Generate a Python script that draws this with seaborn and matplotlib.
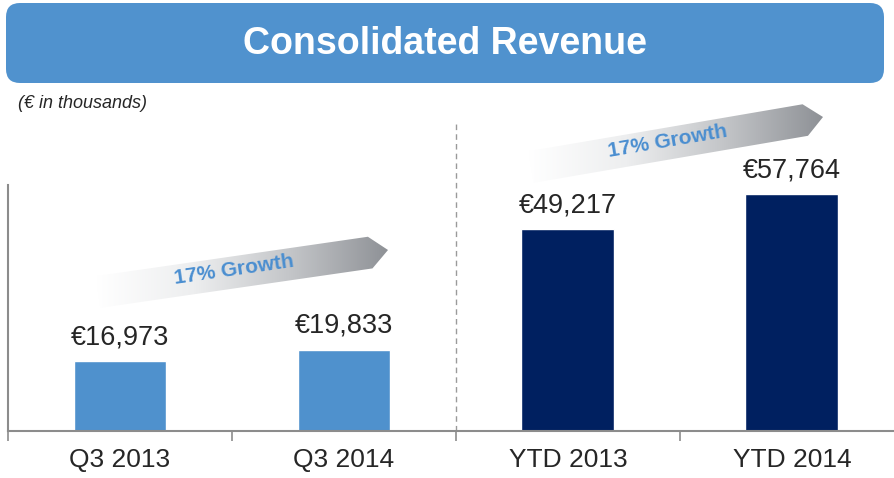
import numpy as np
import pandas as pd
import matplotlib
matplotlib.use('Agg')
import matplotlib.pyplot as plt
from matplotlib.patches import FancyBboxPatch, Polygon
from matplotlib.colors import LinearSegmentedColormap
import seaborn as sns

# chart data
categories  = ['Q3 2013', 'Q3 2014', 'YTD 2013', 'YTD 2014']
revenue     = [16973, 19833, 49217, 57764]
bar_colours = ['#4F91CD', '#4F91CD', '#002060', '#002060']

HEADER_BLUE = '#5092CE'
GROWTH_BLUE = '#4A8ED0'
AXIS_GREY   = '#8C8C8C'

sns.set_style('white')
plt.rcParams['font.family'] = ['Liberation Sans', 'DejaVu Sans']

fig = plt.figure(figsize=(8.95, 4.78), dpi=100)
W, H = 895, 478

# main bar axes
ax = fig.add_axes([8 / W, 47 / H, 887 / W, 246 / H])
ax.patch.set_alpha(0)

df = pd.DataFrame({'period': categories, 'revenue': revenue})
sns.barplot(data=df, x='period', y='revenue', hue='period',
            palette=bar_colours, saturation=1, width=0.415,
            legend=False, ax=ax)

ax.set_xlim(-0.5, 3.46)
ax.set_ylim(0, 60000)
ax.set_yticks([])
ax.set_xlabel('')
ax.set_ylabel('')

for side in ['top', 'right']:
    ax.spines[side].set_visible(False)
for side in ['left', 'bottom']:
    ax.spines[side].set_color(AXIS_GREY)
    ax.spines[side].set_linewidth(1.5)

# tick marks sit between categories, labels under the bars
ax.set_xticks([-0.5, 0.5, 1.5, 2.5], minor=True)
ax.tick_params(axis='x', which='minor', bottom=True, length=7, width=1.2,
               color=AXIS_GREY, direction='out')
ax.tick_params(axis='x', which='major', length=0, pad=12, labelsize=19)

# value labels above bars
for cont, val in zip(ax.containers, revenue):
    ax.bar_label(cont, labels=[f'€{val:,}'], padding=8, fontsize=19.5)

# dashed divider between quarter and year-to-date
ax.axvline(1.5, ymin=0, ymax=1.265, color='#9A9A9A', linewidth=1,
           linestyle=(0, (4, 3)), clip_on=False)

# overlay axes in pixel units for header and growth arrows
over = fig.add_axes([0, 0, 1, 1])
over.set_zorder(3)
over.axis('off')

header = FancyBboxPatch((6, 3), 878, 80,
                        boxstyle='round,pad=0,rounding_size=14',
                        facecolor=HEADER_BLUE, edgecolor='none')
over.add_patch(header)
over.text(445, 44, 'Consolidated Revenue', fontsize=27,
          fontweight='bold', color='white', ha='center', va='center')

fig.text(18 / W, 1 - 103 / H, '(€ in thousands)', style='italic',
         fontsize=13, va='center')

grad_cmap = LinearSegmentedColormap.from_list(
    'arrow_grad', ['#FFFFFF', '#EDEEEF', '#C3C5C8', '#8E9196'])


def draw_growth_arrow(start, tip, label, thick=32, head=18):
    s = np.array(start, float)
    t = np.array(tip, float)
    u = (t - s) / np.linalg.norm(t - s)
    n = np.array([-u[1], u[0]])
    hb = t - u * head
    pts = [s + n * thick / 2, hb + n * thick / 2, t,
           hb - n * thick / 2, s - n * thick / 2]
    poly = Polygon(pts, closed=True, facecolor='none', edgecolor='none')
    over.add_patch(poly)
    xs = [p[0] for p in pts]
    ys = [p[1] for p in pts]
    grad = np.linspace(0, 1, 256).reshape(1, -1)
    im = over.imshow(grad, cmap=grad_cmap, aspect='auto', zorder=2,
                     extent=(min(xs), max(xs), max(ys), min(ys)))
    im.set_clip_path(poly)
    angle = np.degrees(np.arctan2(-(t[1] - s[1]), t[0] - s[0]))
    c = s + (t - s) * 0.47 - n * 2
    over.text(c[0], c[1], label, rotation=angle, rotation_mode='anchor',
              ha='center', va='center', fontsize=15, fontweight='bold',
              color=GROWTH_BLUE, zorder=3)


q_growth = round((revenue[1] / revenue[0] - 1) * 100)
ytd_growth = round((revenue[3] / revenue[2] - 1) * 100)
draw_growth_arrow((98, 292), (388, 250), f'{q_growth}% Growth')
draw_growth_arrow((531, 167), (823, 117), f'{ytd_growth}% Growth')

over.set_xlim(0, W)
over.set_ylim(H, 0)

fig.savefig('out.png', dpi=100)
plt.close()
